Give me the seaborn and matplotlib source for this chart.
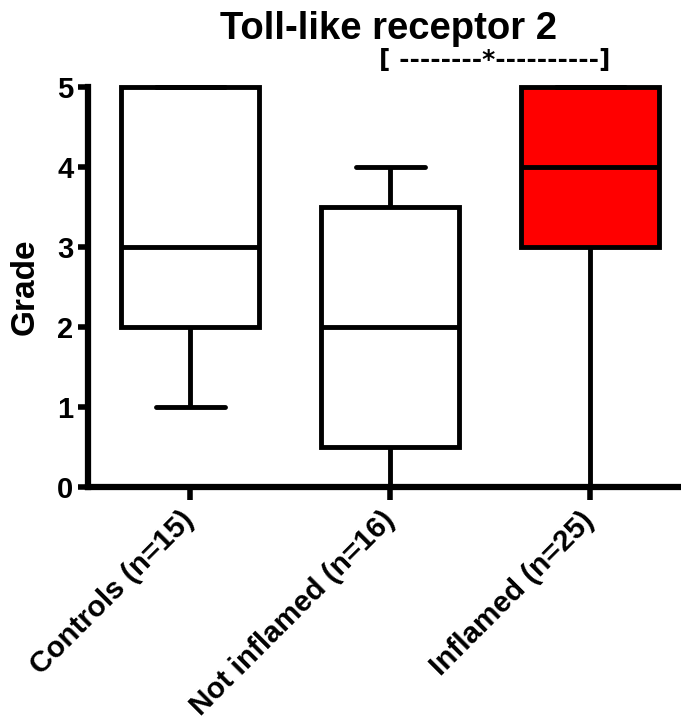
import numpy as np
import pandas as pd
import matplotlib
matplotlib.use("Agg")
import matplotlib.pyplot as plt
import seaborn as sns

# Five-number summaries
groups = ["Controls (n=15)", "Not inflamed (n=16)", "Inflamed (n=25)"]
mins = [1, 0, 0]
q1s = [2, 0.5, 3]
medians = [3, 2, 4]
q3s = [5, 3.5, 5]
maxs = [5, 4, 5]
fills = ["white", "white", "#ff0000"]
title = "Toll-like receptor 2"
sig_text = "[ --------*----------]"
y_ticks = [0, 1, 2, 3, 4, 5]

rows = []
for g, a, b, c, d, e in zip(groups, mins, q1s, medians, q3s, maxs):
    for v in (a, b, c, d, e):
        rows.append({"group": g, "Grade": v})
df = pd.DataFrame(rows)

sns.set_style("ticks")
plt.rcParams["font.family"] = ["Liberation Sans", "DejaVu Sans"]
plt.rcParams["font.weight"] = "bold"
for k in ["text.color", "axes.labelcolor", "xtick.color", "ytick.color", "axes.edgecolor"]:
    plt.rcParams[k] = "black"

fig = plt.figure(figsize=(6.81, 7.25), dpi=100)
ax = fig.add_axes([88 / 681, 1 - 487 / 725, 1 - 88 / 681, (487 - 87) / 725])

sns.boxplot(data=df, x="group", y="Grade", order=groups, hue="group",
            palette=dict(zip(groups, fills)), legend=False,
            whis=(0, 100), width=0.69, linewidth=3.5, linecolor="black",
            saturation=1, ax=ax)

ax.set_ylim(0, 5)
ax.set_xlim(-0.51, 2.455)
ax.set_yticks(y_ticks)
ax.set_yticklabels([str(t) for t in y_ticks], fontsize=21, fontweight="bold")
ax.set_xticks(range(len(groups)))
ax.set_xticklabels(groups, rotation=45, ha="right", va="center",
                   rotation_mode="anchor", fontsize=21.3, fontweight="bold")
ax.set_xlabel("")
ax.set_ylabel("Grade", fontsize=24, fontweight="bold", labelpad=12)

for s in ["top", "right"]:
    ax.spines[s].set_visible(False)
for s in ["left", "bottom"]:
    ax.spines[s].set_linewidth(4.5)
    ax.spines[s].set_color("black")
ax.tick_params(axis="y", length=7.5, width=4, pad=3, colors="black")
ax.tick_params(axis="x", length=9, width=4, pad=12, colors="black")

for ch in ax.get_children():
    try:
        ch.set_clip_on(False)
    except Exception:
        pass

fig.text(389 / 681, 1 - 39 / 725, title, ha="center", va="baseline",
         fontsize=27.5, fontweight="bold")
fig.text(379 / 681, 1 - 67 / 725, sig_text, ha="left", va="baseline",
         fontsize=18, fontweight="bold", family="DejaVu Sans")

fig.savefig("out.png", dpi=100)
